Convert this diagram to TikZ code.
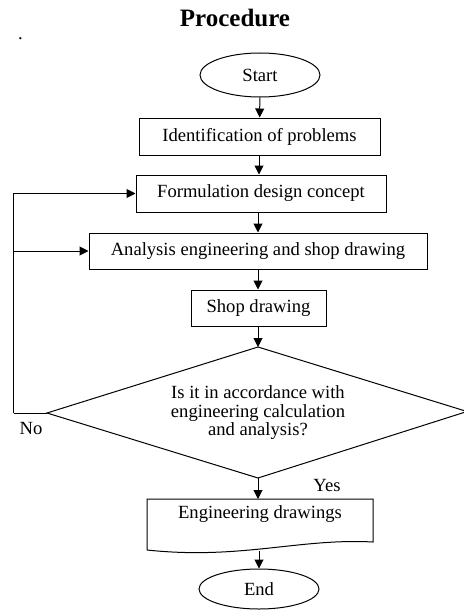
\documentclass[tikz,border=0pt]{standalone}
\usepackage{fontspec}
\setmainfont{Liberation Serif}
\usetikzlibrary{shapes.geometric,arrows.meta}
\begin{document}
\begin{tikzpicture}[x=1pt,y=-1pt,
  every node/.style={font=\fontsize{18.6}{18.6}\selectfont, inner sep=0pt},
  box/.style={draw, line width=1pt, rectangle, minimum height=37pt},
  term/.style={draw, line width=1pt, ellipse, minimum width=120pt},
  arr/.style={line width=1pt, -{Triangle[length=9pt,width=9pt]}},
  ln/.style={line width=1pt}]
\useasboundingbox (0,0) rectangle (463,610);
\node[anchor=base, font=\fontsize{25}{25}\selectfont\bfseries] (title) at (235,27) {Procedure};
\node[anchor=base] (dot) at (20.5,39.5) {.};
\node[term, minimum height=44pt] (st) at (260,75) {Start};
\node[box, minimum width=241pt] (id) at (259.5,136.5) {Identification of problems};
\node[box, minimum width=250pt] (fo) at (261,193.5) {Formulation design concept};
\node[box, minimum width=338pt, minimum height=36pt] (an) at (258,251) {Analysis engineering and shop drawing};
\node[box, minimum width=135pt, minimum height=36pt] (sd) at (258.5,308) {Shop drawing};
% decision diamond
\coordinate (dtop) at (258,347);
\coordinate (dright) at (467,411.5);
\coordinate (dbot) at (258,478);
\coordinate (dleft) at (47,413);
\draw[ln, line join=miter] (dtop) -- (dright) -- (dbot) -- (dleft) -- cycle;
\node[align=center, font=\fontsize{18.6}{18.5}\selectfont] (dc) at (258,413)
      {Is it in accordance with\\engineering calculation\\and analysis?};
% document shape
\coordinate (edtop) at (258,499);
\coordinate (edbot) at (259,551);
\draw[ln] (147,550) -- (147,499) -- (373,499) -- (373,542)
   .. controls (300,538) and (240,560) .. (147,550);
\node (edt) at (260,514) {Engineering drawings};
\node[term, minimum height=40pt] (en) at (259,589) {End};
\node (no) at (31,428) {No};
\node (yes) at (327,485) {Yes};
\coordinate (fb) at (13.5,413);
\draw[arr] (st) -- (id);
\draw[arr] (id.south -| 259,0) -- (fo.north -| 259,0);
\draw[arr] (fo.south -| 258,0) -- (an.north -| 258,0);
\draw[arr] (an.south -| 258,0) -- (sd.north -| 258,0);
\draw[arr] (sd.south -| 258,0) -- (dtop);
\draw[arr] (dbot) -- (edtop);
\draw[arr] (edbot) -- (en.north);
\draw[ln] (dleft) -- (fb);
\draw[arr] (fb) |- (fo.west);
\draw[arr] (an.west -| fb) -- (an.west);
\end{tikzpicture}
\end{document}
